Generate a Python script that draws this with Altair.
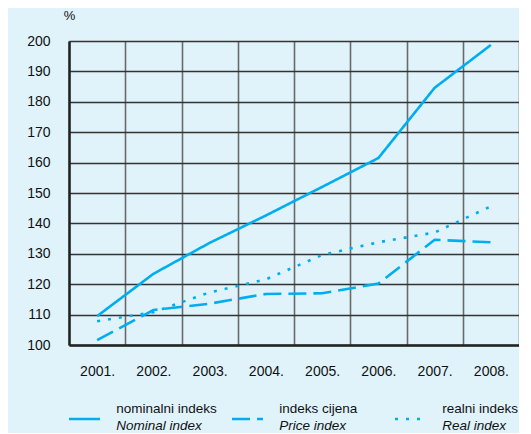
import altair as alt
import pandas as pd

years = ["2001.", "2002.", "2003.", "2004.", "2005.", "2006.", "2007.", "2008."]
nominal = [109.5, 123.4, 133.6, 142.6, 152.0, 161.5, 184.6, 198.7]
price = [101.6, 111.5, 113.6, 116.8, 117.0, 120.2, 134.6, 133.8]
real = [107.8, 110.8, 117.3, 121.6, 129.6, 133.8, 137.0, 145.6]
series_hr = ["nominalni indeks", "indeks cijena", "realni indeks"]
series_en = ["Nominal index", "Price index", "Real index"]
y_ticks = list(range(100, 201, 10))

FONT = "Liberation Sans, Arial"
LINE = "#00aeef"
BG = "#e0f3fb"
dashes = [[1, 0], [18, 7], [3, 8]]

rows = []
for name, vals in zip(series_hr, [nominal, price, real]):
    for y, v in zip(years, vals):
        rows.append({"year": y, "series": name, "value": v})
df = pd.DataFrame(rows)

dash_scale = alt.Scale(domain=series_hr, range=dashes)

main = alt.Chart(df).mark_line(color=LINE, strokeWidth=2.6).encode(
    x=alt.X("year:O", sort=years, bandPosition=0.5,
            scale=alt.Scale(type="band", paddingInner=0, paddingOuter=0),
            axis=alt.Axis(title=None, tickBand="extent", grid=True, gridColor="#6a6a6a",
                          gridWidth=1.6, domainColor="#222", domainWidth=2.5, ticks=False,
                          labelPadding=19, labelAngle=0, labelFontSize=14, labelFont=FONT,
                          labelColor="#111")),
    y=alt.Y("value:Q", scale=alt.Scale(domain=[100, 200], nice=False, zero=False),
            axis=alt.Axis(title="%", titleAngle=0, titleX=0, titleY=-26, titleAlign="center",
                          titleBaseline="middle", titleFont=FONT, titleFontSize=13,
                          titleFontWeight="normal", titleColor="#111",
                          values=y_ticks, grid=True, gridColor="#333", gridWidth=1.4,
                          domainColor="#222", domainWidth=2.5, ticks=False, labelPadding=19,
                          labelFontSize=14, labelFont=FONT, labelColor="#111")),
    strokeDash=alt.StrokeDash("series:N", scale=dash_scale, legend=None),
    detail="series:N",
).properties(width=450, height=304)

leg_df = pd.DataFrame({"i": [0, 1, 2], "series": series_hr, "hr": series_hr, "en": series_en})
leg_base = alt.Chart(leg_df).transform_calculate(
    x1="datum.i", x2="datum.i + 0.19", xt="datum.i + 0.29"
)
xs = alt.Scale(domain=[0, 450 / 163], nice=False, zero=False)
samples = leg_base.mark_rule(color=LINE, strokeWidth=2.6).encode(
    x=alt.X("x1:Q", scale=xs, axis=None),
    x2="x2:Q",
    y=alt.value(18),
    strokeDash=alt.StrokeDash("series:N", scale=dash_scale, legend=None),
)
t1 = leg_base.mark_text(align="left", baseline="middle", font=FONT, fontSize=13.5, color="#111").encode(
    x=alt.X("xt:Q", scale=xs, axis=None), y=alt.value(8), text="hr:N")
t2 = leg_base.mark_text(align="left", baseline="middle", font=FONT, fontSize=13.5, fontStyle="italic",
                        color="#111").encode(
    x=alt.X("xt:Q", scale=xs, axis=None), y=alt.value(25), text="en:N")
legend = alt.layer(samples, t1, t2).properties(width=450, height=30)

chart = alt.vconcat(main, legend, spacing=23).properties(
    background=BG, padding={"left": 18, "top": 1, "right": 0, "bottom": 0}
).configure_view(stroke=None)

chart.save("out.html", embed_options={"renderer": "svg", "actions": False})
